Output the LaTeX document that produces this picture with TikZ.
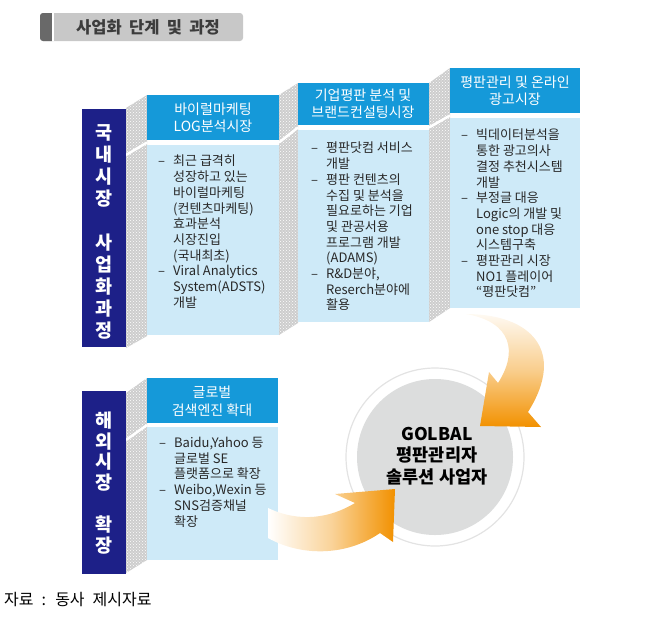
\documentclass[tikz,border=0pt]{standalone}
\usepackage{fontspec}
\setmainfont{Noto Sans CJK KR}
\usetikzlibrary{patterns}
\definecolor{navy}{RGB}{29,32,136}
\definecolor{hdrblue}{RGB}{21,153,217}
\definecolor{bodyblue}{RGB}{206,234,248}
\definecolor{sidegrey}{RGB}{205,205,205}
\definecolor{titlegrey}{RGB}{200,200,200}
\definecolor{stripgrey}{RGB}{105,105,105}
\definecolor{titletext}{RGB}{60,60,60}
\definecolor{bodyink}{RGB}{40,40,40}
\definecolor{circgrey}{RGB}{220,221,221}
\definecolor{arroworange}{RGB}{242,145,0}
\newcommand\dashln{\makebox[15pt][l]{–}}
\newcommand\contln{\hspace*{15pt}}
\newcommand\widesp[1]{\spaceskip=#1\relax}
\tikzset{
  sidepanel/.style={fill=sidegrey, postaction={pattern=crosshatch dots, pattern color=white}},
  hdrbox/.style={fill=hdrblue},
  bodybox/.style={fill=bodyblue},
  navybar/.style={fill=navy},
  cutline/.style={white, line width=2.5pt},
  hdrtext/.style={text=white, align=center, inner sep=0pt, font=\fontsize{14}{17.5}\selectfont},
  bodytext/.style={text=bodyink, align=left, anchor=north west, inner sep=0pt, font=\fontsize{13}{15.7}\selectfont},
  vtext/.style={text=white, align=center, inner sep=0pt, font=\bfseries\fontsize{18.5}{22}\selectfont},
}
\begin{document}
\begin{tikzpicture}[x=1pt,y=-1pt]
\useasboundingbox (0,0) rectangle (666,633);
% ---------- title ----------
\fill[titlegrey, rounded corners=3pt] (40,13) rectangle (243,41);
\fill[stripgrey] (52,13) [rounded corners=3pt] -- (40,13) -- (40,41) [sharp corners] -- (52,41) -- cycle;
\fill[white] (52,13) rectangle (54,41);
\node[text=titletext, font=\bfseries\fontsize{16.5}{18}\selectfont, inner sep=0pt] (title) at (148,27.5) {\widesp{0.45em}사업화 단계 및 과정};
% ---------- side panels ----------
\path[sidepanel] (126,108) -- (147,95) -- (147,336) -- (126,348) -- cycle;
\draw[cutline] (126,155) -- (147,142.5);
\path[sidepanel] (279,95) -- (298,83) -- (298,323) -- (279,335) -- cycle;
\draw[cutline] (279,142.5) -- (298,127.5);
\path[sidepanel] (429,83) -- (450,68) -- (450,308) -- (429,322) -- cycle;
\draw[cutline] (429,127.5) -- (450,115.5);
\path[sidepanel] (126,393) -- (147,378) -- (147,560) -- (126,573) -- cycle;
\draw[cutline] (126,440) -- (147,425);
% ---------- boxes ----------
\path[hdrbox] (147,95) rectangle (279,140);
\path[bodybox] (147,145) rectangle (279,335);
\path[hdrbox] (298,83) rectangle (429,125);
\path[bodybox] (298,130) rectangle (429,322);
\path[hdrbox] (450,68) rectangle (580,113);
\path[bodybox] (450,118) rectangle (580,308);
\path[hdrbox] (147,378) rectangle (278,423);
\path[bodybox] (147,427) rectangle (278,560);
% ---------- navy bars ----------
\path[navybar] (82,109) rectangle (126,347);
\path[navybar] (82,391) rectangle (126,574);
\node[vtext] (dom) at (104,232) {국\\내\\시\\장\\[22pt]사\\업\\화\\과\\정};
\node[vtext, font=\bfseries\fontsize{18.5}{20.5}\selectfont] (ovs) at (104,483) {해\\외\\시\\장\\[22pt]확\\장};
% ---------- headers ----------
\node[hdrtext] (h1) at (213,118) {바이럴마케팅\\LOG분석시장};
\node[hdrtext] (h2) at (363,104) {기업평판 분석 및\\브랜드컨설팅시장};
\node[hdrtext] (h3) at (515,91) {평판관리 및 온라인\\광고시장};
\node[hdrtext] (h4) at (212,401) {글로벌\\검색엔진 확대};
% ---------- bodies ----------
\node[bodytext] (b1) at (158,155) {\dashln 최근 급격히\\\contln 성장하고 있는\\\contln 바이럴마케팅\\\contln (컨텐츠마케팅)\\\contln 효과분석\\\contln 시장진입\\\contln (국내최초)\\\dashln Viral Analytics\\\contln System(ADSTS)\\\contln 개발};
\node[bodytext] (b2) at (311,142) {\dashln 평판닷컴 서비스\\\contln 개발\\\dashln 평판 컨텐츠의\\\contln 수집 및 분석을\\\contln 필요로하는 기업\\\contln 및 관공서용\\\contln 프로그램 개발\\\contln (ADAMS)\\\dashln R\&D분야,\\\contln Reserch분야에\\\contln 활용};
\node[bodytext] (b3) at (461,129) {\dashln 빅데이터분석을\\\contln 통한 광고의사\\\contln 결정 추천시스템\\\contln 개발\\\dashln 부정글 대응\\\contln Logic의 개발 및\\\contln one stop 대응\\\contln 시스템구축\\\dashln 평판관리 시장\\\contln NO1 플레이어\\\contln “평판닷컴”};
\node[bodytext] (b4) at (159,437) {\dashln Baidu,Yahoo 등\\\contln 글로벌 SE\\\contln 플랫폼으로 확장\\\dashln Weibo,Wexin 등\\\contln SNS검증채널\\\contln 확장};
% ---------- circle ----------
\node[circle, minimum size=178pt, fill=white, draw=gray!22, line width=1.2pt, inner sep=0pt] (ring) at (435,457) {};
\node[circle, minimum size=156pt, fill=circgrey, inner sep=0pt] (core) at (435,457) {};
% ---------- arrows ----------
\shade[top color=arroworange!5, bottom color=arroworange, middle color=arroworange!45]
  (466,314) .. controls (530,314) and (567,350) .. (528,412) -- (541,427) -- (480,426) -- (489,372) -- (498,383)
  .. controls (518,352) and (512,322) .. (466,314) -- cycle;
\shade[left color=white, right color=arroworange, middle color=arroworange!40]
  (268,508) .. controls (300,523) and (330,518) .. (355,503) -- (335,494) -- (395,489) -- (393,542) -- (380,533)
  .. controls (345,557) and (300,556) .. (268,538) -- cycle;
% ---------- centre text ----------
\node[align=center, inner sep=0pt, font=\bfseries\fontsize{17.5}{21.5}\selectfont] (golbal) at (437,456) {GOLBAL\\평판관리자\\솔루션 사업자};
% ---------- source ----------
\node[anchor=west, inner sep=0pt, font=\fontsize{16}{18}\selectfont] (src) at (4,600) {\widesp{0.5em}자료 : 동사 제시자료};
\end{tikzpicture}
\end{document}
